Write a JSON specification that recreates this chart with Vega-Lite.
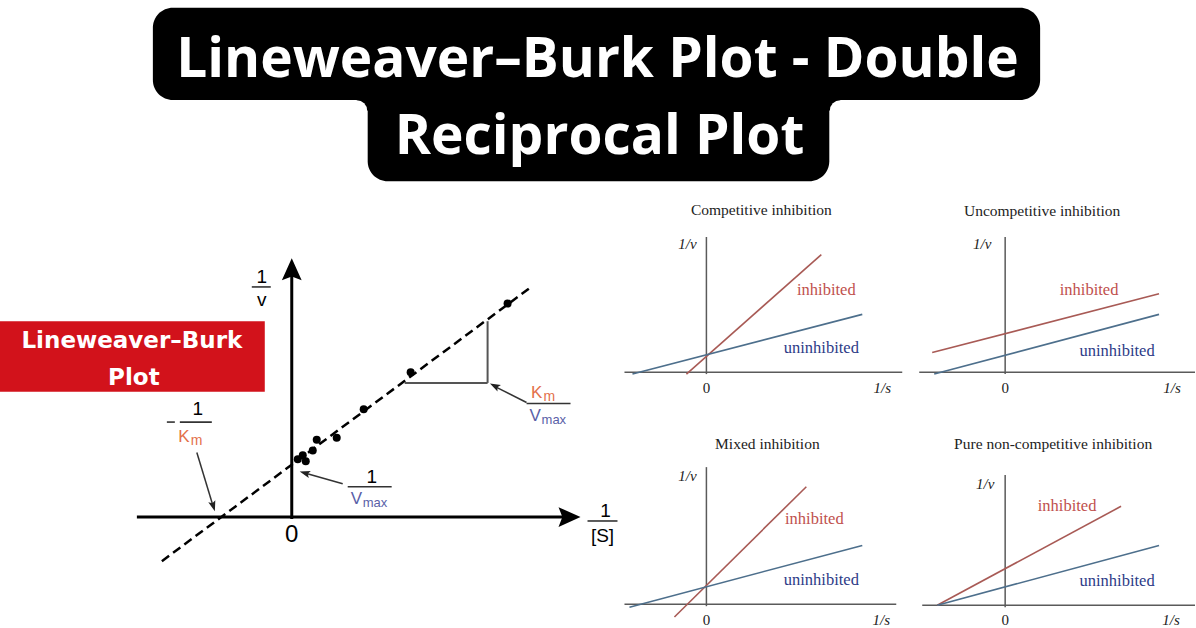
{
  "$schema": "https://vega.github.io/schema/vega-lite/v6.json",
  "width": 1196,
  "height": 628,
  "autosize": {"type": "fit", "contains": "padding"},
  "padding": 0,
  "background": "white",
  "config": {"view": {"stroke": null}},
  "datasets": {
    "titleBox": [{"x": 153, "x2": 1041, "y": 8, "y2": 102}, {"x": 368, "x2": 830, "y": 60, "y2": 185}],
    "filletSq": [{"x": 357, "x2": 369, "y": 101, "y2": 113}, {"x": 829, "x2": 841, "y": 101, "y2": 113}],
    "filletCirc": [{"x": 357, "y": 113}, {"x": 841, "y": 113}],
    "titleText": [{"label": "Lineweaver–Burk Plot - Double", "x": 598, "y": 79}, {"label": "Reciprocal Plot", "x": 600, "y": 157}],
    "redBox": [{"x": 0, "x2": 265, "y": 328, "y2": 400}],
    "redText": [{"label": "Lineweaver–Burk", "x": 132, "y": 355}, {"label": "Plot", "x": 134, "y": 393}],
    "axes": [{"x": 137, "y": 528, "x2": 566, "y2": 528}, {"x": 292, "y": 530, "x2": 292, "y2": 278}],
    "arrowUp": [{"x": 292, "y": 275}],
    "arrowRight": [{"x": 570, "y": 528}],
    "fit": [{"x": 162, "y": 573}, {"x": 533, "y": 292}],
    "obs": [{"x": 298, "y": 469}, {"x": 303, "y": 465}, {"x": 306, "y": 471}, {"x": 313, "y": 460}, {"x": 317, "y": 449}, {"x": 337, "y": 447}, {"x": 364, "y": 418}, {"x": 411, "y": 380}, {"x": 508, "y": 310}],
    "slope": [{"x": 405, "y": 391, "x2": 488, "y2": 391}, {"x": 488, "y": 391, "x2": 488, "y2": 328}],
    "pointers": [{"x": 527, "y": 411, "x2": 496, "y2": 395}, {"x": 343, "y": 494, "x2": 305, "y2": 483}, {"x": 197, "y": 462, "x2": 213, "y2": 516}],
    "ptrA": [{"x": 495, "y": 394}],
    "ptrB": [{"x": 305, "y": 483}],
    "ptrC": [{"x": 213.5, "y": 517}],
    "bars": [{"x": 252, "y": 293, "x2": 271, "y2": 293}, {"x": 588, "y": 532, "x2": 618, "y2": 532}, {"x": 180, "y": 431, "x2": 212, "y2": 431}, {"x": 348, "y": 497, "x2": 392, "y2": 497}, {"x": 527, "y": 412, "x2": 571, "y2": 412}, {"x": 167, "y": 431, "x2": 175, "y2": 431}],
    "labelsBlack": [{"label": "1", "x": 262, "y": 283}, {"label": "v", "x": 262, "y": 306}, {"label": "1", "x": 606, "y": 522}, {"label": "[S]", "x": 603, "y": 547}, {"label": "1", "x": 198, "y": 418}, {"label": "1", "x": 372, "y": 487}],
    "zero": [{"label": "0", "x": 292, "y": 546}],
    "kLabels": [{"label": "K", "x": 537, "y": 401}, {"label": "K", "x": 184, "y": 446}],
    "kSub": [{"label": "m", "x": 544, "y": 405}, {"label": "m", "x": 191, "y": 450}],
    "vLabels": [{"label": "V", "x": 530, "y": 425}, {"label": "V", "x": 351, "y": 510}],
    "vSub": [{"label": "max", "x": 542, "y": 429}, {"label": "max", "x": 363, "y": 514}],
    "panelAxes": [
      {"x": 625, "y": 380, "x2": 903, "y2": 380}, {"x": 707, "y": 242, "x2": 707, "y2": 382},
      {"x": 920, "y": 380, "x2": 1196, "y2": 380}, {"x": 1006, "y": 242, "x2": 1006, "y2": 382},
      {"x": 625, "y": 617, "x2": 897, "y2": 617}, {"x": 707, "y": 477, "x2": 707, "y2": 619},
      {"x": 923, "y": 618, "x2": 1196, "y2": 618}, {"x": 1006, "y": 485, "x2": 1006, "y2": 620}
    ],
    "panelLines": [
      {"panel": "Competitive", "series": "inhibited", "x": 687, "y": 382, "x2": 822, "y2": 260},
      {"panel": "Competitive", "series": "uninhibited", "x": 633, "y": 382, "x2": 863, "y2": 321},
      {"panel": "Uncompetitive", "series": "inhibited", "x": 933, "y": 360, "x2": 1160, "y2": 300},
      {"panel": "Uncompetitive", "series": "uninhibited", "x": 935, "y": 382, "x2": 1160, "y2": 321},
      {"panel": "Mixed", "series": "inhibited", "x": 675, "y": 630, "x2": 807, "y2": 497},
      {"panel": "Mixed", "series": "uninhibited", "x": 630, "y": 620, "x2": 863, "y2": 557},
      {"panel": "Pure non-competitive", "series": "inhibited", "x": 938, "y": 618, "x2": 1122, "y2": 517},
      {"panel": "Pure non-competitive", "series": "uninhibited", "x": 938, "y": 618, "x2": 1160, "y2": 557}
    ],
    "panelTitles": [
      {"label": "Competitive inhibition", "x": 762, "y": 214},
      {"label": "Uncompetitive inhibition", "x": 1043, "y": 215},
      {"label": "Mixed inhibition", "x": 768, "y": 453},
      {"label": "Pure non-competitive inhibition", "x": 1054, "y": 453}
    ],
    "panelAxisLabels": [
      {"label": "1/v", "x": 688, "y": 249}, {"label": "1/s", "x": 883, "y": 396},
      {"label": "1/v", "x": 983, "y": 249}, {"label": "1/s", "x": 1173, "y": 396},
      {"label": "1/v", "x": 688, "y": 486}, {"label": "1/s", "x": 882, "y": 633},
      {"label": "1/v", "x": 986, "y": 494}, {"label": "1/s", "x": 1172, "y": 633}
    ],
    "panelZeros": [{"label": "0", "x": 707, "y": 396}, {"label": "0", "x": 1006, "y": 396}, {"label": "0", "x": 707, "y": 633}, {"label": "0", "x": 1006, "y": 633}],
    "panelLabels": [
      {"series": "inhibited", "label": "inhibited", "x": 827, "y": 296},
      {"series": "uninhibited", "label": "uninhibited", "x": 822, "y": 355},
      {"series": "inhibited", "label": "inhibited", "x": 1090, "y": 296},
      {"series": "uninhibited", "label": "uninhibited", "x": 1118, "y": 358},
      {"series": "inhibited", "label": "inhibited", "x": 815, "y": 530},
      {"series": "uninhibited", "label": "uninhibited", "x": 822, "y": 592},
      {"series": "inhibited", "label": "inhibited", "x": 1068, "y": 517},
      {"series": "uninhibited", "label": "uninhibited", "x": 1118, "y": 593}
    ]
  },
  "encoding": {
    "x": {"field": "x", "type": "quantitative", "scale": {"domain": [0, 1196], "nice": false, "zero": false}, "axis": null},
    "y": {"field": "y", "type": "quantitative", "scale": {"domain": [0, 628], "nice": false, "zero": false, "reverse": true}, "axis": null}
  },
  "layer": [
    {"data": {"name": "titleBox"}, "mark": {"type": "rect", "color": "black", "cornerRadius": 20}, "encoding": {"x2": {"field": "x2"}, "y2": {"field": "y2"}}},
    {"data": {"name": "filletSq"}, "mark": {"type": "rect", "color": "black"}, "encoding": {"x2": {"field": "x2"}, "y2": {"field": "y2"}}},
    {"data": {"name": "filletCirc"}, "mark": {"type": "point", "shape": "circle", "filled": true, "color": "white", "opacity": 1, "size": 440}},
    {"data": {"name": "titleText"}, "mark": {"type": "text", "color": "white", "font": "Open Sans", "fontWeight": "bold", "fontSize": 55, "align": "center", "baseline": "alphabetic"}, "encoding": {"text": {"field": "label"}}},
    {"data": {"name": "redBox"}, "mark": {"type": "rect", "color": "#d2121b"}, "encoding": {"x2": {"field": "x2"}, "y2": {"field": "y2"}}},
    {"data": {"name": "redText"}, "mark": {"type": "text", "color": "white", "font": "DejaVu Sans", "fontWeight": "bold", "fontSize": 23, "align": "center", "baseline": "alphabetic"}, "encoding": {"text": {"field": "label"}}},
    {"data": {"name": "axes"}, "mark": {"type": "rule", "color": "black", "strokeWidth": 3}, "encoding": {"x2": {"field": "x2"}, "y2": {"field": "y2"}}},
    {"data": {"name": "arrowUp"}, "mark": {"type": "point", "shape": "M0,-1L0.9,1L0,0.65L-0.9,1Z", "filled": true, "color": "black", "opacity": 1, "size": 484, "angle": 0}},
    {"data": {"name": "arrowRight"}, "mark": {"type": "point", "shape": "M0,-1L0.9,1L0,0.65L-0.9,1Z", "filled": true, "color": "black", "opacity": 1, "size": 484, "angle": 90}},
    {"data": {"name": "fit"}, "mark": {"type": "line", "color": "black", "strokeWidth": 2.5, "strokeDash": [9, 5]}, "encoding": {}},
    {"data": {"name": "obs"}, "mark": {"type": "point", "shape": "circle", "filled": true, "color": "black", "opacity": 1, "size": 64}},
    {"data": {"name": "slope"}, "mark": {"type": "rule", "color": "#555555", "strokeWidth": 2}, "encoding": {"x2": {"field": "x2"}, "y2": {"field": "y2"}}},
    {"data": {"name": "pointers"}, "mark": {"type": "rule", "color": "#333333", "strokeWidth": 1.5}, "encoding": {"x2": {"field": "x2"}, "y2": {"field": "y2"}}},
    {"data": {"name": "ptrA"}, "mark": {"type": "point", "shape": "M0,-1L0.7,1L0,0.6L-0.7,1Z", "filled": true, "color": "#222222", "opacity": 1, "size": 110, "angle": 298}},
    {"data": {"name": "ptrB"}, "mark": {"type": "point", "shape": "M0,-1L0.7,1L0,0.6L-0.7,1Z", "filled": true, "color": "#222222", "opacity": 1, "size": 110, "angle": 286}},
    {"data": {"name": "ptrC"}, "mark": {"type": "point", "shape": "M0,-1L0.7,1L0,0.6L-0.7,1Z", "filled": true, "color": "#222222", "opacity": 1, "size": 110, "angle": 163}},
    {"data": {"name": "bars"}, "mark": {"type": "rule", "color": "#333333", "strokeWidth": 1.6}, "encoding": {"x2": {"field": "x2"}, "y2": {"field": "y2"}}},
    {"data": {"name": "labelsBlack"}, "mark": {"type": "text", "color": "black", "font": "Liberation Sans", "fontSize": 19, "align": "center", "baseline": "middle"}, "encoding": {"text": {"field": "label"}}},
    {"data": {"name": "zero"}, "mark": {"type": "text", "color": "black", "font": "Liberation Sans", "fontSize": 24, "align": "center", "baseline": "middle"}, "encoding": {"text": {"field": "label"}}},
    {"data": {"name": "kLabels"}, "mark": {"type": "text", "color": "#e3704a", "font": "Liberation Sans", "fontSize": 17, "align": "center", "baseline": "middle"}, "encoding": {"text": {"field": "label"}}},
    {"data": {"name": "kSub"}, "mark": {"type": "text", "color": "#e3704a", "font": "Liberation Sans", "fontSize": 14, "align": "left", "baseline": "middle"}, "encoding": {"text": {"field": "label"}}},
    {"data": {"name": "vLabels"}, "mark": {"type": "text", "color": "#5a5fa8", "font": "Liberation Sans", "fontSize": 17, "align": "left", "baseline": "middle"}, "encoding": {"text": {"field": "label"}}},
    {"data": {"name": "vSub"}, "mark": {"type": "text", "color": "#5a5fa8", "font": "Liberation Sans", "fontSize": 13, "align": "left", "baseline": "middle"}, "encoding": {"text": {"field": "label"}}},
    {"data": {"name": "panelAxes"}, "mark": {"type": "rule", "color": "#5a5a5a", "strokeWidth": 1.5}, "encoding": {"x2": {"field": "x2"}, "y2": {"field": "y2"}}},
    {"data": {"name": "panelLines"}, "mark": {"type": "rule", "strokeWidth": 1.6}, "encoding": {"x2": {"field": "x2"}, "y2": {"field": "y2"}, "stroke": {"field": "series", "type": "nominal", "scale": {"domain": ["inhibited", "uninhibited"], "range": ["#a85a55", "#4d6f8c"]}, "legend": null}}},
    {"data": {"name": "panelTitles"}, "mark": {"type": "text", "color": "#222222", "font": "Liberation Serif", "fontSize": 15.5, "align": "center", "baseline": "middle"}, "encoding": {"text": {"field": "label"}}},
    {"data": {"name": "panelAxisLabels"}, "mark": {"type": "text", "color": "#222222", "font": "Liberation Serif", "fontStyle": "italic", "fontSize": 15, "align": "center", "baseline": "middle"}, "encoding": {"text": {"field": "label"}}},
    {"data": {"name": "panelZeros"}, "mark": {"type": "text", "color": "#222222", "font": "Liberation Serif", "fontSize": 15, "align": "center", "baseline": "middle"}, "encoding": {"text": {"field": "label"}}},
    {"data": {"name": "panelLabels"}, "mark": {"type": "text", "font": "Liberation Serif", "fontSize": 16.5, "align": "center", "baseline": "middle"}, "encoding": {"text": {"field": "label"}, "fill": {"field": "series", "type": "nominal", "scale": {"domain": ["inhibited", "uninhibited"], "range": ["#c0504d", "#2d3b87"]}, "legend": null}}}
  ]
}
